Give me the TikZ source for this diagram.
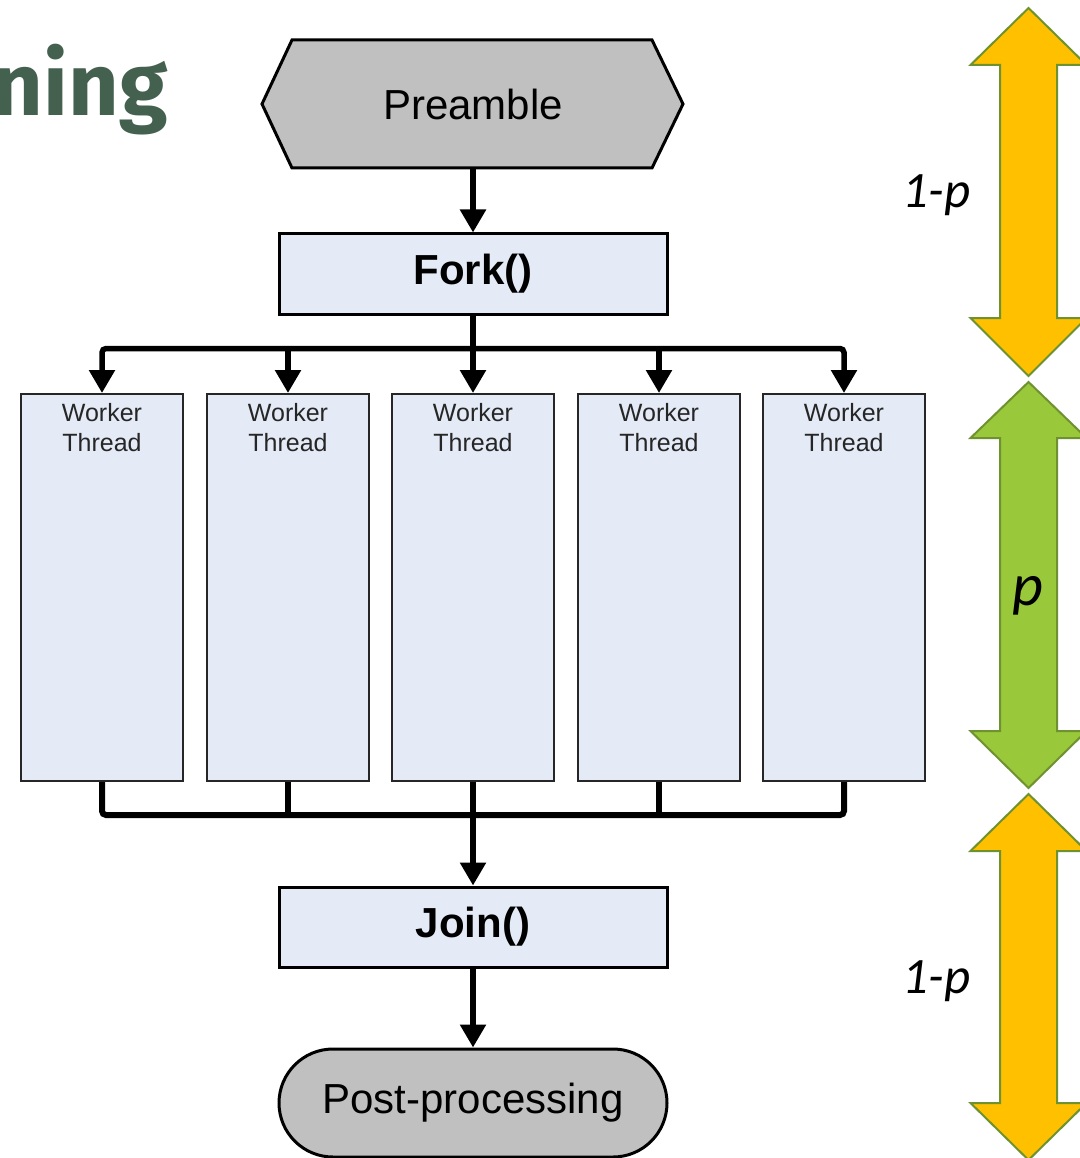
\documentclass[tikz,border=0pt]{standalone}
\usepackage{fontspec}
\setmainfont{Liberation Sans}
\newfontfamily\labelfont{Carlito}
\newfontfamily\titlefont{Fira Sans}
\usetikzlibrary{arrows.meta,shapes.misc,calc}

\definecolor{boxblue}{HTML}{E4EBF6}
\definecolor{shapegray}{HTML}{C0C0C0}
\definecolor{titlegreen}{HTML}{44604F}
\definecolor{amber}{HTML}{FFC000}
\definecolor{leaf}{HTML}{9AC83B}
\definecolor{olive}{HTML}{6F9230}
\definecolor{inkgray}{HTML}{262626}

% double-headed block arrow on the right margin:
% #1 fill, #2 upper tip, #3 upper head base, #4 lower head base, #5 lower tip
\newcommand\spanarrow[5]{%
  \draw[olive, line width=2, fill=#1, line join=miter]
    (1028.5,#2) -- (1086.5,#3) -- (1057,#3) -- (1057,#4) -- (1086.5,#4)
    -- (1028.5,#5) -- (970.5,#4) -- (1000,#4) -- (1000,#3) -- (970.5,#3) -- cycle;}

\begin{document}
\begin{tikzpicture}[x=1pt,y=-1pt,
  procbox/.style={draw=black, line width=3, fill=boxblue, rectangle,
    minimum width=388, minimum height=80, inner sep=0,
    font=\bfseries\fontsize{42}{48}\selectfont, text=black},
  worker/.style={draw=inkgray, line width=2, fill=boxblue, rectangle,
    minimum width=162, minimum height=387, inner sep=0},
  workertext/.style={anchor=north, inner sep=0, align=center, text=inkgray,
    font=\fontsize{25}{30}\selectfont},
  flow/.style={line width=5.5, -{Triangle[width=25,length=23]}},
  busline/.style={line width=6},
  marginlabel/.style={anchor=base, inner sep=0, text=black,
    font=\labelfont\itshape\fontsize{51}{60}\selectfont}]

\useasboundingbox (0,0) rectangle (1079,1158);

% heading, running off the left edge
\node[anchor=base east, inner sep=0, text=titlegreen,
  font=\titlefont\bfseries\fontsize{88}{96}\selectfont] (title) at (168,116) {ning};

% preamble hexagon
\draw[line width=3, fill=shapegray, line join=miter]
  (292,40) -- (652,40) -- (683,104) -- (652,168) -- (292,168) -- (262,104) -- cycle;
\node[minimum width=360, minimum height=128, inner sep=0,
  font=\fontsize{42}{48}\selectfont] (pre) at (473,104) {Preamble};

\node[procbox] (fork) at (473,274) {Fork()};

% worker threads
\foreach \i/\x in {1/102, 2/288, 3/473, 4/659, 5/844} {
  \node[worker] (w\i) at (\x,587.5) {};
  \node[workertext] (t\i) at ($(w\i.north)+(0,10)$) {Worker\\Thread};
}

\node[procbox] (join) at (473,927) {Join()};
\node[rounded rectangle, draw=black, line width=3, fill=shapegray,
  minimum width=388, minimum height=108, inner sep=0,
  font=\fontsize{42}{48}\selectfont] (post) at (473,1103) {Post-processing};

% fork fan-out
\coordinate (split) at ($(fork.south)+(0,33)$);
\draw[flow] (pre) -- (fork);
\draw[line width=5.5] (fork.south) -- (split);
\draw[flow, rounded corners=4] (split) -| (w1.north);
\draw[flow, rounded corners=4] (split) -| (w5.north);
\draw[flow] (split) -- (w3.north);
\draw[flow] (split -| w2.north) -- (w2.north);
\draw[flow] (split -| w4.north) -- (w4.north);

% join fan-in
\coordinate (merge) at ($(w3.south)+(0,33)$);
\draw[busline, rounded corners=4] (w1.south) |- (merge);
\draw[busline, rounded corners=4] (w5.south) |- (merge);
\draw[busline] (w2.south) -- (w2.south |- merge);
\draw[busline] (w4.south) -- (w4.south |- merge);
\draw[flow] (w3.south) -- (join.north);
\draw[flow] (join) -- (post);

% serial / parallel fractions
\spanarrow{amber}{8}{65}{318}{376}
\spanarrow{leaf}{382}{438}{731}{788}
\spanarrow{amber}{794}{851}{1103}{1160}

\node[marginlabel] (serialtop) at (936.5,208) {1-p};
\node[marginlabel, font=\labelfont\itshape\fontsize{60}{70}\selectfont] (parallel) at (1027.5,605) {p};
\node[marginlabel] (serialbottom) at (936.5,993) {1-p};
\end{tikzpicture}
\end{document}
